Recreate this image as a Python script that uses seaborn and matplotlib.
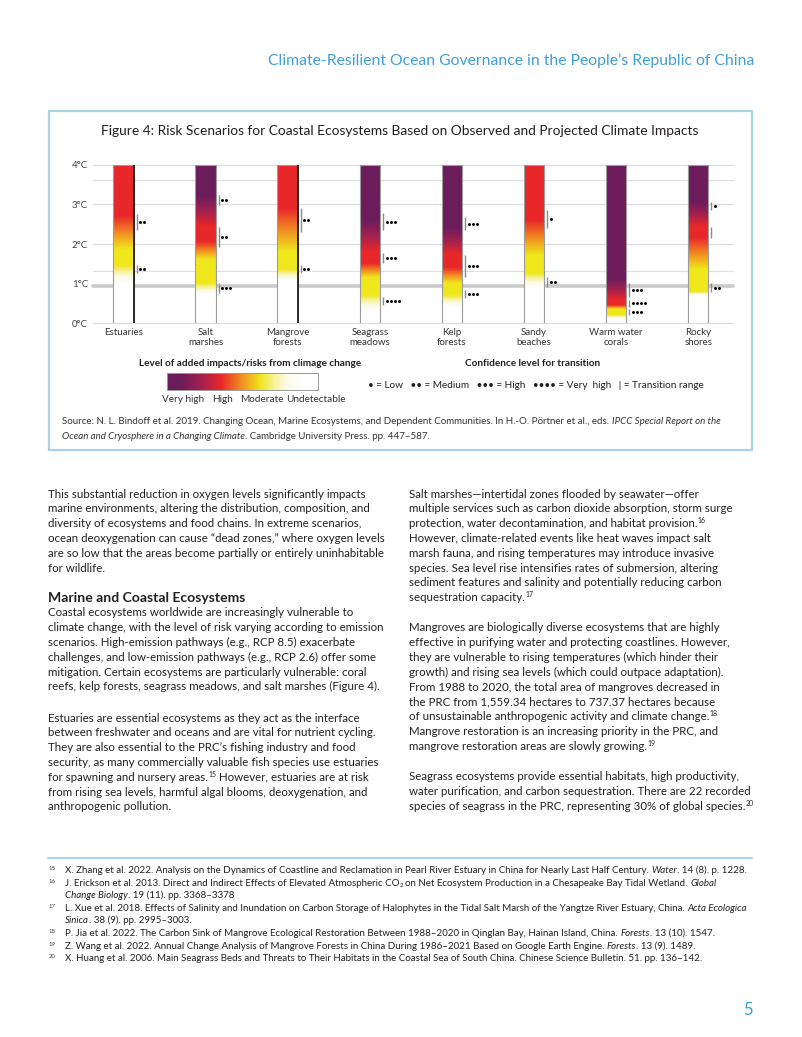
import numpy as np
import pandas as pd
import matplotlib
matplotlib.use("Agg")
import matplotlib.pyplot as plt
import seaborn as sns
from matplotlib.colors import LinearSegmentedColormap
from matplotlib.patches import Rectangle
from matplotlib.lines import Line2D

sns.set_style("white")
FONT = ["Lato", "DejaVu Sans"]
plt.rcParams["font.family"] = FONT

# ---------------- chart data ----------------
categories = ["Estuaries", "Salt\nmarshes", "Mangrove\nforests", "Seagrass\nmeadows",
              "Kelp\nforests", "Sandy\nbeaches", "Warm water\ncorals", "Rocky\nshores"]
max_temp = [4, 4, 4, 4, 4, 4, 4, 4]

# risk level along warming (0 = undetectable, 1 = moderate, 2 = high, 3 = very high)
risk_temps = [
    [0, 1.00, 1.45, 1.85, 2.70, 4.0],
    [0, 0.70, 1.00, 1.60, 2.05, 2.45, 3.20, 4.0],
    [0, 1.05, 1.35, 1.80, 2.90, 4.0],
    [0, 0.30, 0.70, 1.15, 1.50, 1.80, 2.60, 4.0],
    [0, 0.40, 0.70, 1.00, 1.40, 1.75, 2.40, 4.0],
    [0, 0.90, 1.25, 1.70, 2.60, 4.0],
    [0, 0.10, 0.20, 0.35, 0.45, 0.60, 1.10, 4.0],
    [0, 0.70, 0.78, 1.35, 2.15, 2.45, 3.05, 4.0],
]
risk_levels = [
    [0, 0, 1, 1, 2, 2],
    [0, 0, 1, 1, 2, 2, 3, 3],
    [0, 0, 1, 1, 2, 2],
    [0, 0, 1, 1, 2, 2, 3, 3],
    [0, 0, 1, 1, 2, 2, 3, 3],
    [0, 0, 1, 1, 2, 2],
    [0, 0, 1, 1, 2, 2, 3, 3],
    [0, 0, 1, 1, 2, 2, 3, 3],
]
# transition ranges (low, high, number of confidence dots)
trans_lo = [[2.35, 1.26], [2.98, 1.93, 0.76], [2.31, 1.26], [2.35, 1.52, 0.47],
            [2.35, 1.18, 0.63], [2.40, 0.93], [0.67, 0.42, 0.21], [2.86, 2.14, 0.80]]
trans_hi = [[2.75, 1.47], [3.23, 2.44, 1.01], [2.90, 1.47], [2.77, 1.77, 0.67],
            [2.67, 1.72, 0.84], [2.86, 1.18], [1.01, 0.59, 0.36], [3.06, 2.44, 1.01]]
trans_conf = [[2, 2], [2, 2, 3], [2, 2], [3, 3, 4], [3, 3, 3], [1, 2], [3, 4, 3], [1, 0, 2]]
dark_right_edge = [True, False, True, False, False, False, False, False]

y_ticks = [0, 1, 2, 3, 4]
y_tick_labels = ["0°C", "1°C", "2°C", "3°C", "4°C"]
extra_lines = [1.33, 3.6]
present_day = 0.94

legend_levels = [3, 2, 1, 0]
legend_labels = ["Very high", "High", "Moderate", "Undetectable"]
conf_legend = "\u2022 = Low   \u2022\u2022 = Medium   \u2022\u2022\u2022 = High   \u2022\u2022\u2022\u2022 = Very  high   | = Transition range"

# ---------------- page text ----------------
header = "Climate-Resilient Ocean Governance in the People\u2019s Republic of China"
fig_title = "Figure 4: Risk Scenarios for Coastal Ecosystems Based on Observed and Projected Climate Impacts"
legend_title_left = "Level of added impacts/risks from climage change"
legend_title_right = "Confidence level for transition"
source_lines = [
    [("Source: N. L. Bindoff et al. 2019. Changing Ocean, Marine Ecosystems, and Dependent Communities. In H.-O. P\u00f6rtner et al., eds. ", ""),
     ("IPCC Special Report on the", "it")],
    [("Ocean and Cryosphere in a Changing Climate", "it"), (". Cambridge University Press. pp. 447\u2013587.", "")],
]
left_par1 = [
    "This substantial reduction in oxygen levels significantly impacts",
    "marine environments, altering the distribution, composition, and",
    "diversity of ecosystems and food chains. In extreme scenarios,",
    "ocean deoxygenation can cause \u201cdead zones,\u201d where oxygen levels",
    "are so low that the areas become partially or entirely uninhabitable",
    "for wildlife.",
]
heading = "Marine and Coastal Ecosystems"
left_par2 = [
    "Coastal ecosystems worldwide are increasingly vulnerable to",
    "climate change, with the level of risk varying according to emission",
    "scenarios. High-emission pathways (e.g., RCP 8.5) exacerbate",
    "challenges, and low-emission pathways (e.g., RCP 2.6) offer some",
    "mitigation. Certain ecosystems are particularly vulnerable: coral",
    "reefs, kelp forests, seagrass meadows, and salt marshes (Figure 4).",
]
left_par3 = [
    "Estuaries are essential ecosystems as they act as the interface",
    "between freshwater and oceans and are vital for nutrient cycling.",
    "They are also essential to the PRC\u2019s fishing industry and food",
    "security, as many commercially valuable fish species use estuaries",
    [("for spawning and nursery areas.", ""), ("15", "sup"), (" However, estuaries are at risk", "")],
    "from rising sea levels, harmful algal blooms, deoxygenation, and",
    "anthropogenic pollution.",
]
right_par1 = [
    "Salt marshes\u2014intertidal zones flooded by seawater\u2014offer",
    "multiple services such as carbon dioxide absorption, storm surge",
    [("protection, water decontamination, and habitat provision.", ""), ("16", "sup")],
    "However, climate-related events like heat waves impact salt",
    "marsh fauna, and rising temperatures may introduce invasive",
    "species. Sea level rise intensifies rates of submersion, altering",
    "sediment features and salinity and potentially reducing carbon",
    [("sequestration capacity.", ""), ("17", "sup")],
]
right_par2 = [
    "Mangroves are biologically diverse ecosystems that are highly",
    "effective in purifying water and protecting coastlines. However,",
    "they are vulnerable to rising temperatures (which hinder their",
    "growth) and rising sea levels (which could outpace adaptation).",
    "From 1988 to 2020, the total area of mangroves decreased in",
    "the PRC from 1,559.34 hectares to 737.37 hectares because",
    [("of unsustainable anthropogenic activity and climate change.", ""), ("18", "sup")],
    "Mangrove restoration is an increasing priority in the PRC, and",
    [("mangrove restoration areas are slowly growing.", ""), ("19", "sup")],
]
right_par3 = [
    "Seagrass ecosystems provide essential habitats, high productivity,",
    "water purification, and carbon sequestration. There are 22 recorded",
    [("species of seagrass in the PRC, representing 30% of global species.", ""), ("20", "sup")],
]
footnotes = [
    ("15", [("X. Zhang et al. 2022. Analysis on the Dynamics of Coastline and Reclamation in Pearl River Estuary in China for Nearly Last Half Century. ", ""),
            ("Water", "it"), (". 14 (8). p. 1228.", "")]),
    ("16", [("J. Erickson et al. 2013. Direct and Indirect Effects of Elevated Atmospheric CO", ""), ("2", "sub"),
            (" on Net Ecosystem Production in a Chesapeake Bay Tidal Wetland. ", ""), ("Global", "it")]),
    ("", [("Change Biology", "it"), (". 19 (11). pp. 3368\u20133378", "")]),
    ("17", [("L. Xue et al. 2018. Effects of Salinity and Inundation on Carbon Storage of Halophytes in the Tidal Salt Marsh of the Yangtze River Estuary, China. ", ""),
            ("Acta Ecologica", "it")]),
    ("", [("Sinica", "it"), (". 38 (9). pp. 2995\u20133003.", "")]),
    ("18", [("P. Jia et al. 2022. The Carbon Sink of Mangrove Ecological Restoration Between 1988\u20132020 in Qinglan Bay, Hainan Island, China. ", ""),
            ("Forests", "it"), (". 13 (10). 1547.", "")]),
    ("19", [("Z. Wang et al. 2022. Annual Change Analysis of Mangrove Forests in China During 1986\u20132021 Based on Google Earth Engine. ", ""),
            ("Forests", "it"), (". 13 (9). 1489.", "")]),
    ("20", [("X. Huang et al. 2006. Main Seagrass Beds and Threats to Their Habitats in the Coastal Sea of South China. Chinese Science Bulletin. 51. pp. 136\u2013142.", "")]),
]
page_number = "5"

# ---------------- colours ----------------
BLUE = "#3f9fd6"
BOX = "#a8d2ec"
INK = "#231f20"
risk_cmap = LinearSegmentedColormap.from_list("risk", [
    (0.0, "#ffffff"), (0.12, "#fdfbe4"), (0.22, "#f8f19a"), (1 / 3, "#efe71c"),
    (0.5, "#f28b22"), (2 / 3, "#e8272a"), (0.83, "#a3204e"), (1.0, "#6c1c5b")])

# ---------------- figure ----------------
W, H = 802, 1037
fig = plt.figure(figsize=(W / 100, H / 100), dpi=100)
fig.patch.set_facecolor("white")
renderer = fig.canvas.get_renderer()


def text_width(s, **kw):
    t = fig.text(0, 0, s, **kw)
    w = t.get_window_extent(renderer).width
    t.remove()
    return w


def fit(s, target, **kw):
    return 10 * target / text_width(s, fontsize=10, **kw)


def draw_rich(x, y, segs, size, color=INK, weight="normal"):
    if isinstance(segs, str):
        segs = [(segs, "")]
    for s, mode in segs:
        kw = dict(family=FONT, fontsize=size, color=color, weight=weight, style="normal")
        dy = 0.0
        if mode == "it":
            kw["style"] = "italic"
        elif mode == "sup":
            kw["fontsize"] = size * 0.6
            dy = -size * 1.389 * 0.36
        elif mode == "sub":
            kw["fontsize"] = size * 0.6
            dy = size * 1.389 * 0.14
        lead = len(s) - len(s.lstrip(" "))
        trail = len(s) - len(s.rstrip(" "))
        core = s.strip(" ")
        sw = (text_width("a a", **kw) - text_width("aa", **kw)) if (lead or trail) else 0
        x += lead * sw
        if core:
            t = fig.text(x / W, 1 - (y + dy) / H, core, ha="left", va="baseline", **kw)
            x += t.get_window_extent(renderer).width
        x += trail * sw
    return x


# header
hs = fit(header, 486, family=FONT)
fig.text(754 / W, 1 - 65 / H, header, ha="right", va="baseline", fontsize=hs, color=BLUE)

# figure box
fig.add_artist(Rectangle((48.5 / W, 1 - 450 / H), (752 - 48.5) / W, (450 - 111) / H,
                         transform=fig.transFigure, fill=False, edgecolor=BOX, lw=1.6))
ts = fit(fig_title, 594, family=FONT)
fig.text(400 / W, 1 - 135 / H, fig_title, ha="center", va="baseline", fontsize=ts, color=INK)

# ---------------- chart ----------------
ax = fig.add_axes([93 / W, 1 - 323.5 / H, 640 / W, 159 / H])
df = pd.DataFrame({"ecosystem": categories, "temp": max_temp})
sns.barplot(data=df, x="ecosystem", y="temp", ax=ax, width=0.25, color="white",
            edgecolor="#9c9c9c", linewidth=0.8, zorder=3)

px_per_unit = 82.1
tgrid = np.linspace(0, 4, 400)
for i, patch in enumerate(ax.patches):
    x0, w, top = patch.get_x(), patch.get_width(), patch.get_height()
    patch.set_facecolor("none")
    lev = np.interp(tgrid[tgrid <= top], risk_temps[i], risk_levels[i])
    img = risk_cmap(lev / 3.0)[:, None, :]
    ax.imshow(img, extent=[x0, x0 + w, 0, top], origin="lower", aspect="auto",
              interpolation="bilinear", zorder=2)
    if dark_right_edge[i]:
        ax.vlines(x0 + w, 0, top, color="#1e1e1e", lw=1.3, zorder=4)
    xl = x0 + w + 3 / px_per_unit
    for lo, hi, n in zip(trans_lo[i], trans_hi[i], trans_conf[i]):
        ax.vlines(xl, lo, hi, color="#8c8c8c", lw=1.0, zorder=4)
        if n:
            xs = xl + (3.5 + 4 * np.arange(n)) / px_per_unit
            ax.scatter(xs, np.full(n, (lo + hi) / 2), s=4.5, color="black",
                       linewidths=0, zorder=5)

for yv in y_ticks:
    if yv != 1:
        ax.axhline(yv, color="#dedede", lw=0.9, zorder=0, clip_on=False)
for yv in extra_lines:
    ax.axhline(yv, color="#e2e2e2", lw=0.9, zorder=0, clip_on=False)
ax.axhline(present_day, color="#cacaca", lw=2.6, zorder=0, clip_on=False)

ax.set_xlim((93 - 123.5) / px_per_unit, (733 - 123.5) / px_per_unit)
ax.set_ylim(0, 4)
for sp in ax.spines.values():
    sp.set_visible(False)
ax.set_xlabel("")
ax.set_ylabel("")
ax.set_yticks(y_ticks, y_tick_labels)
ax.tick_params(axis="y", length=0, pad=3.6, labelsize=7, labelcolor="#444444")
ax.tick_params(axis="x", length=0, pad=3.6, labelsize=7, labelcolor="#333333")
for lab in ax.get_xticklabels():
    lab.set_linespacing(1.05)
ax.grid(False)

# ---------------- legends ----------------
ls = fit(legend_title_left, 224, family=FONT, weight="bold")
fig.text(250 / W, 1 - 366.5 / H, legend_title_left, ha="center", va="baseline",
         fontsize=ls, weight="bold", color=INK)
fig.text(533 / W, 1 - 366.5 / H, legend_title_right, ha="center", va="baseline",
         fontsize=ls, weight="bold", color=INK)

cax = fig.add_axes([167 / W, 1 - 390 / H, 151 / W, 17 / H])
lv = np.linspace(3.35, -0.43, 300)
cimg = risk_cmap(np.clip(lv, 0, 3) / 3.0)[None, :, :]
cax.imshow(cimg, extent=[3.35, -0.43, 0, 1], aspect="auto", interpolation="bilinear")
cax.set_xlim(3.35, -0.43)
cax.set_ylim(0, 1)
cax.set_yticks([])
cax.set_xticks(legend_levels, [""] * len(legend_levels))
cax.tick_params(axis="x", length=3, width=0.7, color="#777777", direction="out")
for sp in cax.spines.values():
    sp.set_edgecolor("#9a9a9a")
    sp.set_linewidth(0.7)
label_px = [183, 222, 262, 316]
for lab, xp in zip(legend_labels, label_px):
    fig.text(xp / W, 1 - 402 / H, lab, ha="center", va="baseline", fontsize=ls,
             color="#333333")

fig.text(536 / W, 1 - 388 / H, conf_legend, ha="center", va="baseline",
         fontsize=ls, color=INK)

ss = fit("".join(s for s, _ in source_lines[0]), 668, family=FONT)
draw_rich(62, 423.5, source_lines[0], ss, color="#333333")
draw_rich(62, 439.5, source_lines[1], ss, color="#333333")

# ---------------- body text ----------------
bs = fit("are so low that the areas become partially or entirely uninhabitable", 339, family=FONT)
pitch = 14.8
boff = 3.6


def para(x, y0, lines):
    for k, ln in enumerate(lines):
        draw_rich(x, y0 + k * pitch + boff, ln, bs)


para(48.3, 494, left_par1)
hd = fit(heading, 197, family=FONT, weight="bold")
fig.text(48.3 / W, 1 - (597 + 4.5) / H, heading, ha="left", va="baseline",
         fontsize=hd, weight="bold", color=INK)
para(48.3, 612.7, left_par2)
para(48.3, 718, left_par3)
para(409.3, 494, right_par1)
para(409.3, 627.7, right_par2)
para(409.3, 776.7, right_par3)

# ---------------- footnotes ----------------
fig.add_artist(Line2D([48 / W, 752 / W], [1 - 858 / H] * 2, color=BOX, lw=1.4))
fs = fit("".join(s for s, _ in footnotes[0][1]), 685, family=FONT)
for k, (num, segs) in enumerate(footnotes):
    yb = 870 + k * 12.6 + 3.0
    if num:
        fig.text(49 / W, 1 - (yb - 3.0) / H, num, ha="left", va="baseline",
                 fontsize=fs * 0.62, color="#444444")
    draw_rich(65, yb, segs, fs, color=INK)

fig.text(748 / W, 1 - 1015 / H, page_number, ha="center", va="baseline",
         fontsize=12, color=BLUE)

fig.savefig("out.png", dpi=100, facecolor="white")
